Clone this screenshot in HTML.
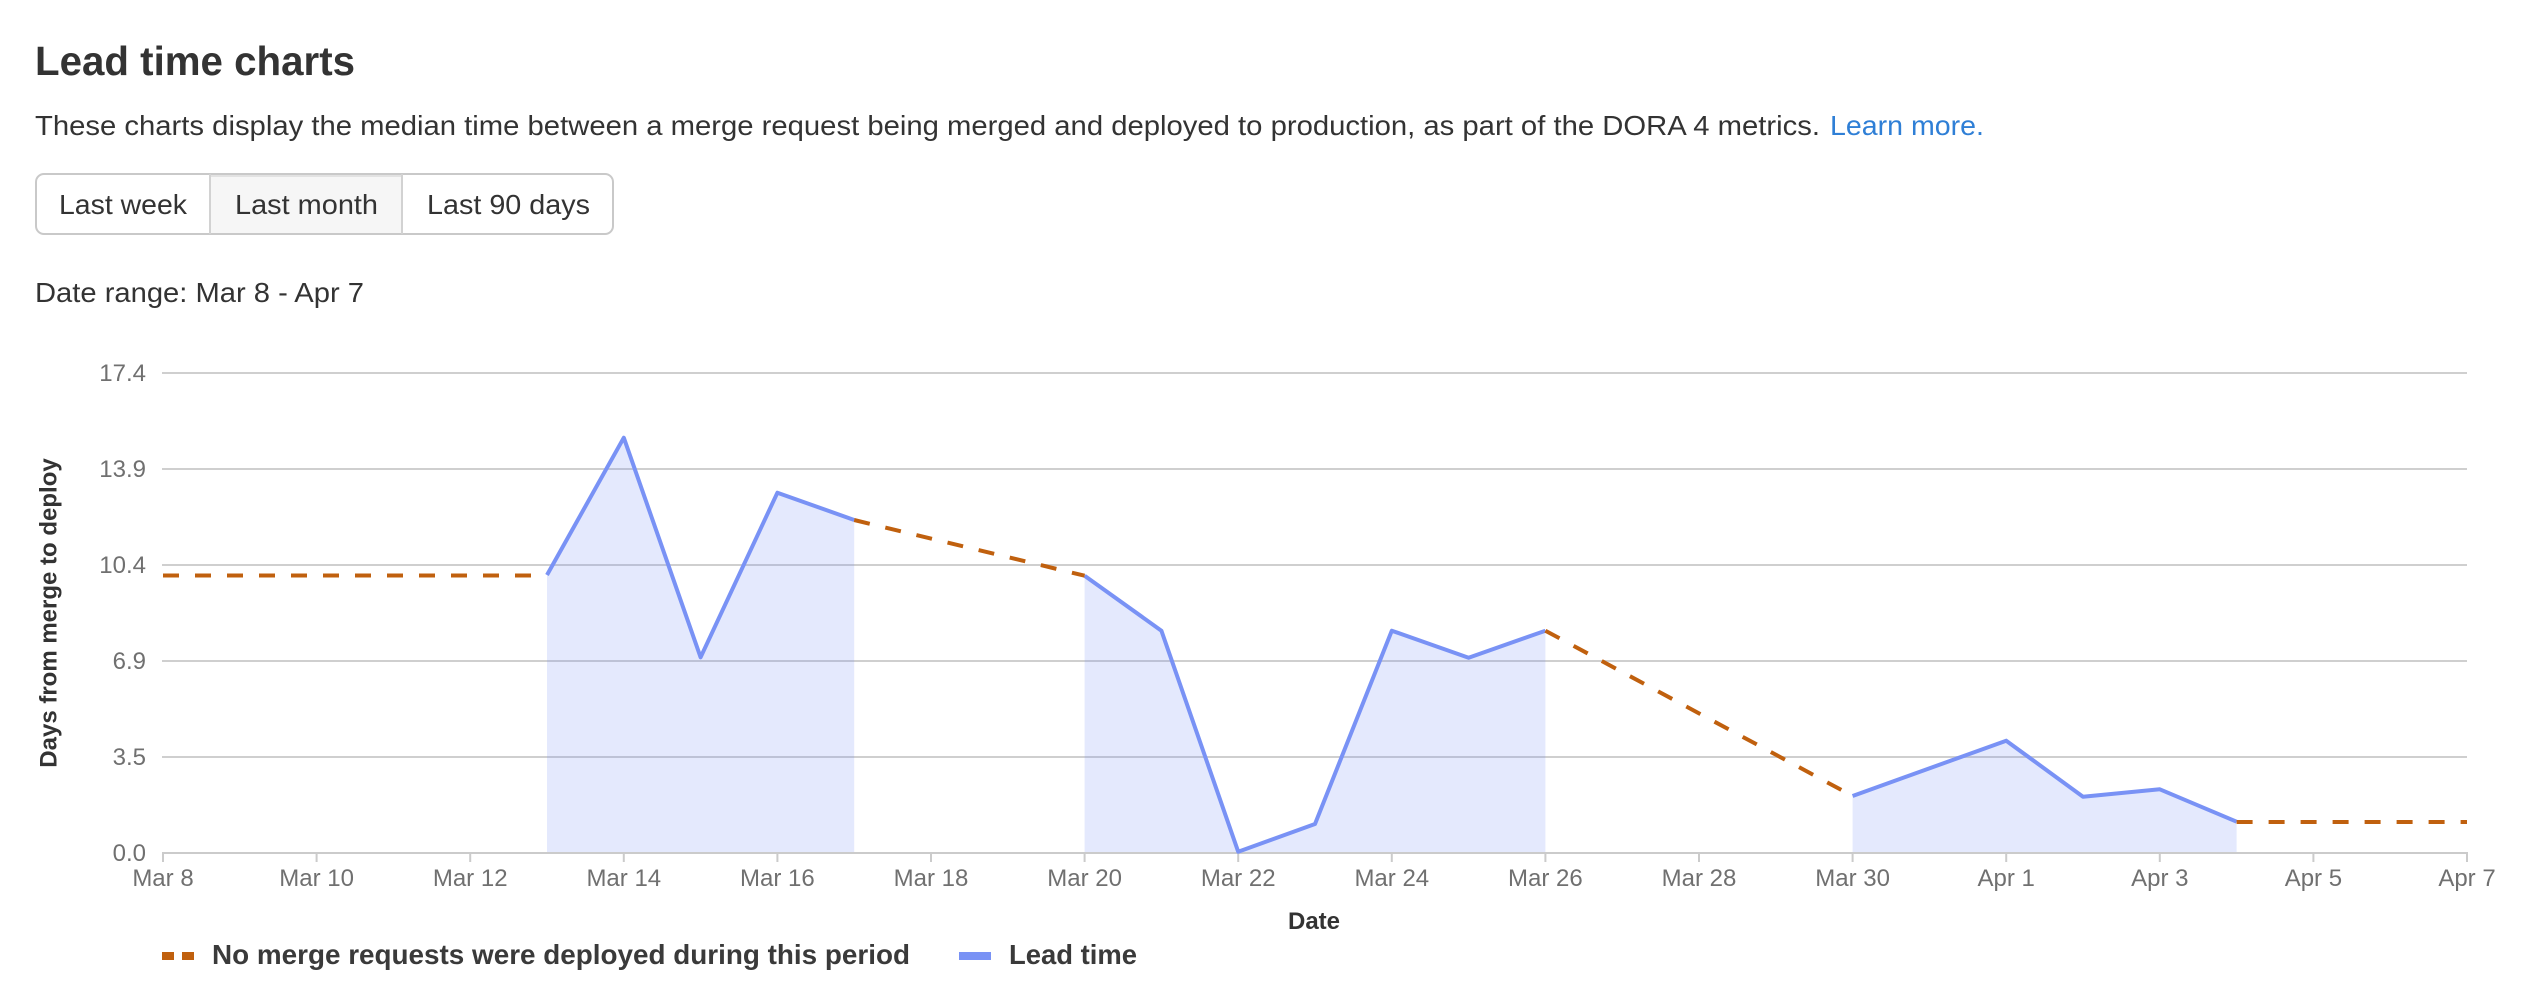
<!DOCTYPE html>
<html>
<head>
<meta charset="utf-8">
<style>
  html,body{margin:0;padding:0;background:#fff;}
  body{width:2524px;height:996px;overflow:hidden;}
  svg{display:block;}
  text{font-family:"Liberation Sans", Arial, Helvetica, sans-serif;}
</style>
</head>
<body>
<svg width="2524" height="996" viewBox="0 0 2524 996" xmlns="http://www.w3.org/2000/svg">
  <rect x="0" y="0" width="2524" height="996" fill="#fff"/>

  <!-- Header -->
  <text x="35" y="75" font-size="41" font-weight="bold" fill="#333" textLength="320" lengthAdjust="spacingAndGlyphs">Lead time charts</text>
  <text x="35" y="135" font-size="28" fill="#333" textLength="1785" lengthAdjust="spacingAndGlyphs">These charts display the median time between a merge request being merged and deployed to production, as part of the DORA 4 metrics.</text>
  <text x="1830" y="135" font-size="28" fill="#2f7fd6" textLength="154" lengthAdjust="spacingAndGlyphs">Learn more.</text>

  <!-- Button group -->
  <rect x="210" y="174" width="192" height="60" fill="#f6f6f6"/>
  <line x1="210" y1="175.5" x2="402" y2="175.5" stroke="#e2e2e2" stroke-width="3"/>
  <rect x="36" y="174" width="577" height="60" rx="8" ry="8" fill="none" stroke="#c9c9c9" stroke-width="2"/>
  <line x1="210" y1="174" x2="210" y2="234" stroke="#d2d2d2" stroke-width="2"/>
  <line x1="402" y1="174" x2="402" y2="234" stroke="#d2d2d2" stroke-width="2"/>
  <text x="59" y="214" font-size="28" fill="#333" textLength="128" lengthAdjust="spacingAndGlyphs">Last week</text>
  <text x="235" y="214" font-size="28" fill="#333" textLength="143" lengthAdjust="spacingAndGlyphs">Last month</text>
  <text x="427" y="214" font-size="28" fill="#333" textLength="163" lengthAdjust="spacingAndGlyphs">Last 90 days</text>

  <text x="35" y="302" font-size="28" fill="#333" textLength="329" lengthAdjust="spacingAndGlyphs">Date range: Mar 8 - Apr 7</text>

  <!-- Gridlines -->
  <g stroke="#cfcfcf" stroke-width="2">
    <line x1="162" y1="373" x2="2467" y2="373"/>
    <line x1="162" y1="469" x2="2467" y2="469"/>
    <line x1="162" y1="565" x2="2467" y2="565"/>
    <line x1="162" y1="661" x2="2467" y2="661"/>
    <line x1="162" y1="757" x2="2467" y2="757"/>
  </g>

  <!-- Y labels -->
  <g font-size="24" fill="#707070" text-anchor="end">
    <text x="146" y="381">17.4</text>
    <text x="146" y="477">13.9</text>
    <text x="146" y="573">10.4</text>
    <text x="146" y="669">6.9</text>
    <text x="146" y="765">3.5</text>
    <text x="146" y="861">0.0</text>
  </g>

  <!-- Y axis title -->
  <text transform="translate(56.5,613) rotate(-90)" text-anchor="middle" font-size="24" font-weight="bold" fill="#333">Days from merge to deploy</text>

  <!-- Area fills -->
  <g fill="rgba(121,146,245,0.2)">
    <path d="M547,575 L623.8,437.7 L700.6,657.3 L777.4,492.7 L854.2,520 L854.2,853 L547,853 Z"/>
    <path d="M1084.6,575.7 L1161.4,630.7 L1238.2,851.7 L1315,824 L1391.8,630.7 L1468.6,657.7 L1545.4,630.7 L1545.4,853 L1084.6,853 Z"/>
    <path d="M1852.6,796 L2006.2,740.7 L2083,796.7 L2159.8,789.3 L2236.6,821.7 L2236.6,853 L1852.6,853 Z"/>
  </g>

  <!-- X axis line and ticks -->
  <g stroke="#cbcbcb" stroke-width="2">
    <line x1="162" y1="853" x2="2468" y2="853"/>
    <line x1="163" y1="853" x2="163" y2="862"/>
    <line x1="316.6" y1="853" x2="316.6" y2="862"/>
    <line x1="470.2" y1="853" x2="470.2" y2="862"/>
    <line x1="623.8" y1="853" x2="623.8" y2="862"/>
    <line x1="777.4" y1="853" x2="777.4" y2="862"/>
    <line x1="931" y1="853" x2="931" y2="862"/>
    <line x1="1084.6" y1="853" x2="1084.6" y2="862"/>
    <line x1="1238.2" y1="853" x2="1238.2" y2="862"/>
    <line x1="1391.8" y1="853" x2="1391.8" y2="862"/>
    <line x1="1545.4" y1="853" x2="1545.4" y2="862"/>
    <line x1="1699" y1="853" x2="1699" y2="862"/>
    <line x1="1852.6" y1="853" x2="1852.6" y2="862"/>
    <line x1="2006.2" y1="853" x2="2006.2" y2="862"/>
    <line x1="2159.8" y1="853" x2="2159.8" y2="862"/>
    <line x1="2313.4" y1="853" x2="2313.4" y2="862"/>
    <line x1="2467" y1="853" x2="2467" y2="862"/>
  </g>

  <!-- Lead time lines -->
  <g fill="none" stroke="#7992f5" stroke-width="4" stroke-linejoin="round">
    <polyline points="547,575 623.8,437.7 700.6,657.3 777.4,492.7 854.2,520"/>
    <polyline points="1084.6,575.7 1161.4,630.7 1238.2,851.7 1315,824 1391.8,630.7 1468.6,657.7 1545.4,630.7"/>
    <polyline points="1852.6,796 2006.2,740.7 2083,796.7 2159.8,789.3 2236.6,821.7"/>
  </g>

  <!-- Dashed "no deployments" lines -->
  <g fill="none" stroke="#c0600e" stroke-width="4" stroke-dasharray="16 16">
    <line x1="163" y1="575.5" x2="547" y2="575.5"/>
    <line x1="854.2" y1="520" x2="1084.6" y2="575.7"/>
    <line x1="1545.4" y1="630.7" x2="1852.6" y2="796"/>
    <line x1="2236.6" y1="822" x2="2467" y2="822"/>
  </g>

  <!-- X labels -->
  <g font-size="24" fill="#707070" text-anchor="middle">
    <text x="163" y="886">Mar 8</text>
    <text x="316.6" y="886">Mar 10</text>
    <text x="470.2" y="886">Mar 12</text>
    <text x="623.8" y="886">Mar 14</text>
    <text x="777.4" y="886">Mar 16</text>
    <text x="931" y="886">Mar 18</text>
    <text x="1084.6" y="886">Mar 20</text>
    <text x="1238.2" y="886">Mar 22</text>
    <text x="1391.8" y="886">Mar 24</text>
    <text x="1545.4" y="886">Mar 26</text>
    <text x="1699" y="886">Mar 28</text>
    <text x="1852.6" y="886">Mar 30</text>
    <text x="2006.2" y="886">Apr 1</text>
    <text x="2159.8" y="886">Apr 3</text>
    <text x="2313.4" y="886">Apr 5</text>
    <text x="2467" y="886">Apr 7</text>
  </g>

  <!-- X axis title -->
  <text x="1314" y="929" text-anchor="middle" font-size="24" font-weight="bold" fill="#333">Date</text>

  <!-- Legend -->
  <rect x="162" y="952" width="12" height="8" fill="#c0600e"/>
  <rect x="182" y="952" width="12" height="8" fill="#c0600e"/>
  <text x="212" y="964" font-size="28" font-weight="bold" fill="#3a3a3a" textLength="698" lengthAdjust="spacingAndGlyphs">No merge requests were deployed during this period</text>
  <rect x="959" y="952" width="32" height="8" fill="#7992f5"/>
  <text x="1009" y="964" font-size="28" font-weight="bold" fill="#3a3a3a" textLength="128" lengthAdjust="spacingAndGlyphs">Lead time</text>
</svg>
</body>
</html>
